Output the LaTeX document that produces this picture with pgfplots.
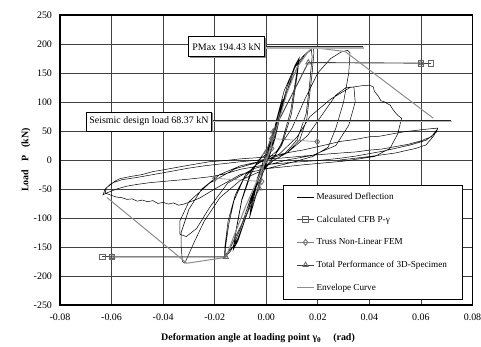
\documentclass[border=0pt]{standalone}
\usepackage{fontspec}
\setmainfont{Liberation Serif}
\usepackage{pgfplots}
\pgfplotsset{compat=1.18}
\usetikzlibrary{shadows}
\begin{document}
\begin{tikzpicture}
\begin{axis}[
  scale only axis, width=412.5bp, height=290bp,
  xmin=-0.08, xmax=0.08, ymin=-250, ymax=250,
  xtick={-0.08,-0.06,-0.04,-0.02,0,0.02,0.04,0.06,0.08},
  ytick={-250,-200,-150,-100,-50,0,50,100,150,200,250},
  scaled x ticks=false,
  xticklabel={\pgfmathprintnumber[fixed,fixed zerofill,precision=2]{\tick}},
  /pgf/number format/assume math mode=true,
  ticklabel style={font=\fontsize{10}{12}\selectfont},
  yticklabel style={xshift=-4.5bp},
  xticklabel style={yshift=-5bp},
  major tick length=0pt,
  grid=major, major grid style={black!75, line width=0.7bp},
  axis line style={line width=1.1bp},
  xlabel={\bfseries Deformation angle at loading point γ\textsubscript{θ}\hspace{1.2em}(rad)},
  ylabel={\bfseries Load\hspace{0.8em}P\hspace{0.8em}(kN)},
  label style={font=\fontsize{10}{12}\selectfont},
  xlabel style={at={(axis description cs:0.48,0)}, anchor=north, yshift=-25bp},
  ylabel style={at={(axis description cs:0,0.5)}, anchor=south, yshift=26bp},
  legend cell align=left,
  legend style={at={(axis description cs:0.54,0.4138)}, anchor=north west,
    font=\fontsize{9.2}{10}\selectfont, draw=black, line width=0.6bp, fill=white,
    inner xsep=13.5bp, inner ysep=5.5bp, row sep=11bp},
]
\addplot[black, line width=0.5bp, no marks] coordinates {
(0,0)(0.001,20)(0.002,35)(0.0015,25)(0.0005,5)(-0.001,-18)(-0.002,-33)(-0.0015,-22)(-0.0003,-3)
(0.001,18)(0.0022,38)(0.0016,26)(0.0004,4)(-0.001,-16)(-0.0022,-36)(-0.0016,-24)(0,0)
(0.002,32)(0.004,65)(0.006,100)(0.0055,85)(0.003,35)(0.001,5)(-0.002,-30)(-0.004,-62)(-0.0062,-95)(-0.0055,-78)(-0.003,-30)(-0.001,0)
(0.002,35)(0.0045,75)(0.0065,105)(0.006,88)(0.0035,38)(0.001,3)(-0.002,-28)(-0.0045,-68)(-0.0065,-100)(-0.006,-82)(-0.0035,-32)(-0.001,0)
(0.002,25)(0.005,75)(0.008,125)(0.011,162)(0.0125,174)(0.012,155)(0.0095,85)(0.006,30)(0.003,5)(0,-10)(-0.004,-48)(-0.008,-100)(-0.011,-140)(-0.0125,-152)(-0.012,-130)(-0.0095,-70)(-0.006,-25)(-0.003,0)(0,10)
(0.004,60)(0.008,118)(0.011,158)(0.0128,176)(0.0122,152)(0.0098,80)(0.006,25)(0.002,0)(-0.002,-20)(-0.006,-72)(-0.010,-125)(-0.0128,-155)(-0.0122,-132)(-0.0095,-68)(-0.006,-20)(-0.002,5)
(0.002,30)(0.004,70)(0.007,120)(0.0105,155)(0.014,178)(0.017,190)(0.0182,194)(0.0185,185)(0.0178,150)(0.0165,100)(0.0157,70)(0.013,35)(0.008,12)(0.003,0)(-0.002,-20)(-0.005,-55)(-0.008,-100)(-0.011,-135)(-0.014,-158)(-0.016,-168)(-0.0158,-150)(-0.0145,-110)(-0.0125,-70)(-0.009,-35)(-0.005,-12)(-0.001,0)
(0.002,25)(0.005,70)(0.008,118)(0.012,160)(0.015,182)(0.0175,190)(0.0178,178)(0.0168,130)(0.0155,80)(0.012,35)(0.007,10)(0.002,-3)(-0.002,-22)(-0.006,-65)(-0.010,-118)(-0.013,-150)(-0.0162,-165)(-0.016,-148)(-0.0148,-105)(-0.012,-60)(-0.008,-25)(-0.003,-5)(0,0)
(0.004,15)(0.010,55)(0.015,105)(0.020,150)(0.025,175)(0.029,186)(0.0315,189)(0.0325,185)(0.032,150)(0.030,100)(0.027,55)(0.024,22)(0.018,6)(0.010,-4)(0,-15)(-0.010,-35)(-0.018,-65)(-0.024,-105)(-0.028,-142)(-0.031,-172)(-0.0315,-178)(-0.0325,-175)(-0.033,-150)(-0.033,-125)(-0.030,-85)(-0.025,-50)(-0.018,-25)(-0.010,-10)(0,0)
(0.008,12)(0.016,42)(0.022,80)(0.027,112)(0.031,125)(0.034,126)(0.0345,100)(0.032,60)(0.027,25)(0.018,8)(0.008,0)(-0.005,-15)(-0.015,-40)(-0.022,-82)(-0.027,-118)(-0.031,-132)(-0.0335,-128)(-0.0335,-105)(-0.030,-72)(-0.022,-40)(-0.012,-15)(0,0)
(0.005,10)(0.012,40)(0.017,75)(0.025,105)(0.0325,125)(0.037,128)(0.040,129)(0.0415,126)(0.042,118)(0.0435,110)(0.0445,102)(0.046,100)(0.047,97)(0.048,95)(0.049,88)(0.050,82)(0.051,77)(0.0525,72)
(0.051,45)(0.048,20)(0.042,6)(0.030,-2)(0.015,-8)(0,-15)(-0.010,-25)(-0.020,-50)(-0.026,-66)(-0.030,-73)(-0.032,-76)(-0.034,-78)(-0.036,-74)(-0.038,-76)(-0.040,-73)(-0.042,-75)(-0.044,-70)(-0.046,-72)(-0.048,-69)(-0.050,-71)(-0.052,-67)(-0.054,-68)(-0.056,-65)(-0.058,-64)(-0.060,-61)(-0.0625,-57)
(-0.062,-48)(-0.0585,-36)(-0.0567,-32)(-0.052,-28)(-0.048,-25)(-0.044,-20)(-0.040,-17)(-0.035,-13)(-0.030,-9)(-0.026,-6)(-0.022,-3)(-0.016,-1)(-0.010,2)(0,5)(0.010,14)(0.014,17)(0.020,23)(0.024,27)(0.0286,32)(0.034,35)(0.040,40)(0.044,41)(0.050,46)(0.054,49)(0.060,52)(0.064,54)(0.0665,55)
(0.066,48)(0.062,34)(0.056,26)(0.050,20)(0.045,15)(0.040,11)(0.035,7)(0.0286,3)(0.020,-1)(0.010,-4)(0,-8)(-0.010,-16)(-0.016,-24)(-0.022,-29)(-0.026,-31)(-0.030,-33)(-0.035,-35)(-0.040,-37)(-0.045,-39)(-0.050,-42)(-0.054,-45)(-0.058,-50)(-0.062,-57)(-0.0633,-60)
(-0.0625,-50)(-0.060,-40)(-0.056,-34)(-0.050,-30)(-0.045,-26)(-0.040,-22)(-0.035,-18)(-0.030,-14)(-0.024,-10)(-0.018,-7)(-0.010,-3)(0,1)(0.010,5)(0.020,9)(0.0286,12)(0.035,14)(0.040,17)(0.045,19)(0.050,23)(0.055,27)(0.060,33)(0.064,40)(0.0665,54)
(0.065,42)(0.062,26)(0.058,20)(0.050,12)(0.040,6)(0.0286,0)
};
\addlegendentry{Measured Deflection}
\addplot[black!75, line width=0.9bp, mark=square, mark size=2.8bp, mark options={draw=black!60, fill=white, line width=0.8bp}] coordinates {(-0.0636,-167)(-0.0598,-167)};
\addlegendentry{Calculated CFB P-γ}
\addplot[black!75, line width=0.9bp, mark=square, mark size=2.8bp, mark options={draw=black!60, fill=white, line width=0.8bp}, forget plot] coordinates {(0.060,167)(0.0639,167)};
\addplot[black!50, line width=0.6bp, mark=diamond, mark size=3bp, mark options={draw=black!55, fill=black!15, line width=0.9bp}] coordinates {
(-0.0199,-31.6)(-0.0018,-37)(-0.0018,-17)(0,0)(0.0021,20)(0.0021,37)(0.0198,31.6)};
\addlegendentry{Truss Non-Linear FEM}
\addplot[black!75, line width=0.9bp, mark=triangle, mark size=3bp, mark options={draw=black!60, fill=black!25, line width=0.8bp}] coordinates {
(-0.0598,-167)(-0.0157,-167)(-0.0027,-49)(0,14)(0.0027,49)(0.0163,168)(0.060,167)};
\addlegendentry{Total Performance of 3D-Specimen}
\addplot[black!45, line width=1bp, no marks] coordinates {
(-0.0617,-65)(-0.0308,-178)(-0.0157,-168)(-0.012,-125)(-0.008,-80)(-0.004,-40)(0,0)(0.004,55)(0.008,115)(0.012,160)(0.016,185)(0.018,194)(0.0306,187)(0.0648,72)};
\addlegendentry{Envelope Curve}
% annotations
\draw[black!30, line width=1.6bp] (axis cs:-0.0012,193.5) -- (axis cs:0.0378,193.5);
\draw[black!85, line width=1.4bp] (axis cs:-0.0012,195.3) -- (axis cs:0.0375,195.3);
\node[draw=black, line width=0.6bp, fill=white, font=\fontsize{10}{12}\selectfont, inner xsep=4bp, minimum height=20bp,
  drop shadow={shadow xshift=1.5bp, shadow yshift=-1.5bp, fill=black!45, opacity=1}]
  at (axis cs:-0.0154,195.3) {PMax 194.43 kN};
\draw[black!30, line width=1.6bp] (axis cs:-0.0207,66.5) -- (axis cs:0.0719,66.5);
\draw[black!85, line width=1.4bp] (axis cs:-0.0207,68.37) -- (axis cs:0.0716,68.37);
\node[draw=black, line width=0.6bp, fill=white, font=\fontsize{10}{12}\selectfont, inner xsep=3bp, minimum height=19bp,
  drop shadow={shadow xshift=1.5bp, shadow yshift=-1.5bp, fill=black!45, opacity=1}]
  at (axis cs:-0.0455,66.7) {Seismic design load 68.37 kN};
\end{axis}
\pgfresetboundingbox
\path (-60bp,-42bp) rectangle (421bp,305bp);
\end{tikzpicture}
\end{document}
